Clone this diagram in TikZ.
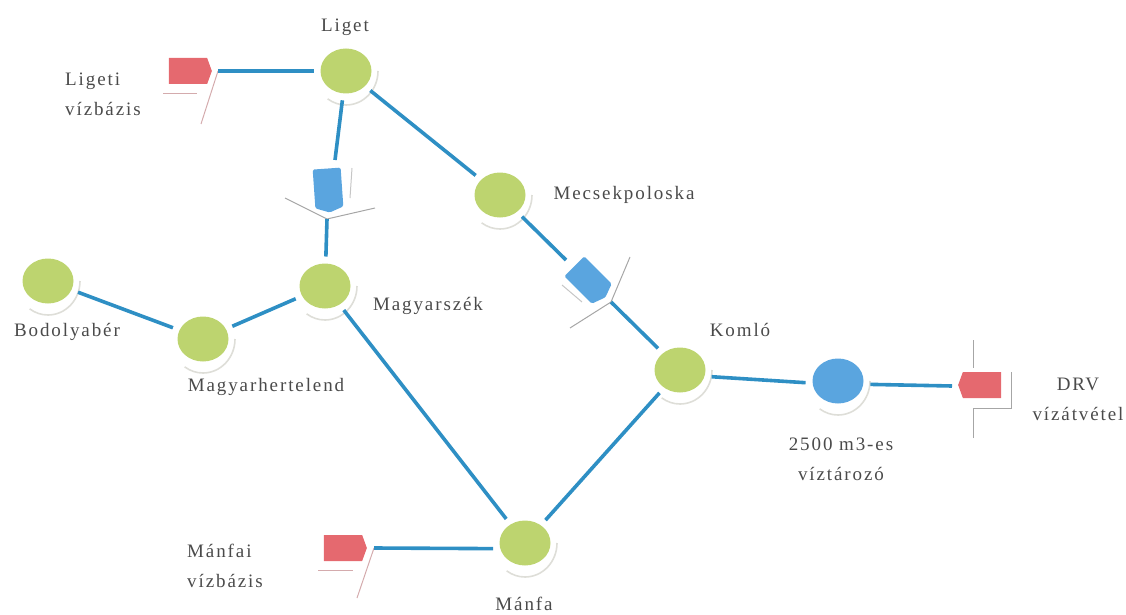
\documentclass[tikz,border=0pt]{standalone}
\usepackage{fontspec}
\setmainfont{Liberation Serif}
\newfontfamily\labelfont[LetterSpace=10]{Liberation Serif}
\usetikzlibrary{shapes.symbols,shapes.geometric}
\definecolor{stationgreen}{HTML}{BDD46F}
\definecolor{tankblue}{HTML}{5AA5DF}
\definecolor{pipeblue}{HTML}{2E8FC4}
\definecolor{sourcered}{HTML}{E5696F}
\definecolor{halogray}{HTML}{DEDED8}
\definecolor{lettergray}{HTML}{4A4A4A}
\colorlet{markgray}{gray!70}
\colorlet{marklight}{gray!45}
\colorlet{markred}{sourcered!55!gray!60}
\tikzset{
  station/.style={ellipse,fill=stationgreen,minimum width=51pt,minimum height=45pt,inner sep=0pt,outer sep=7pt},
  tank/.style={station,fill=tankblue},
  pointer/.style={signal,signal to=east,signal pointer angle=140,inner sep=0pt,minimum height=#1,outer sep=0pt},
  source/.style={pointer=26pt,fill=sourcered,minimum width=43pt},
  valve/.style={pointer=28pt,fill=tankblue,minimum width=44pt,rounded corners=1.5pt},
  pipe/.style={draw=pipeblue,line width=3.6pt},
  mark line/.style={draw=#1,line width=1pt},
  halo/.style={draw=halogray,line width=1.6pt},
  label text/.style={text=lettergray,font=\labelfont\fontsize{19}{30}\selectfont,align=center,inner sep=0pt},
  left text/.style={label text,align=left,anchor=west}
}
\begin{document}
\begin{tikzpicture}[x=1pt,y=-1pt]
\useasboundingbox (0,0) rectangle (1126,615);
% stations
\node[station] (liget) at (346,71) {};
\node[station] (mecsek) at (500,195) {};
\node[station] (magyarszek) at (325,286) {};
\node[station] (bodolya) at (48,281) {};
\node[station] (hertelend) at (203,339) {};
\node[station] (komlo) at (680,370) {};
\node[station] (manfa) at (525,543) {};
\node[tank] (tarozo) at (838,381) {};
% halo arcs
\foreach \n in {liget,mecsek,magyarszek,bodolya,hertelend,komlo,manfa,tarozo}
  \draw[halo] (\n.center) ++(32pt,0pt) arc[start angle=0,end angle=-125,x radius=32pt,y radius=34pt];
% sources and valves
\node[source] (ligetsrc) at (188,71) {};
\node[source] (manfasrc) at (343,548) {};
\node[source,rotate=180] (drvsrc) at (982,385) {};
\node[valve,rotate=-86] (valveA) at (328,188) {};
\node[valve,rotate=-45] (valveB) at (588,280) {};
% junctions
\coordinate (ligetj) at (218,71);
\coordinate (manfaj) at (374,548);
\coordinate (valveAj) at (327,219);
\coordinate (valveBj) at (611,302);
\coordinate (drvj) at (952,386);
\coordinate (valveAin) at (335,160);
\coordinate (valveBin) at (566,260);
% thin marks
\draw[mark line=markred] (ligetj) -- (201,124);
\draw[mark line=markred] (163,94) -- (197,94);
\draw[mark line=markred] (manfaj) -- (357,598);
\draw[mark line=markred] (318,570) -- (353,570);
\draw[mark line=markgray] (285,198) -- (valveAj) -- (375,208);
\draw[mark line=marklight] (352,168) -- (350,198);
\draw[mark line=markgray] (630,257) -- (valveBj) -- (570,328);
\draw[mark line=marklight] (562,285) -- (582,302);
\draw[mark line=markgray] (973,340) -- (973,368);
\draw[mark line=markgray] (973,438) -- (973,408) -- (1011,408) -- (1011,372);
% pipes
\draw[pipe] (ligetj) -- (liget);
\draw[pipe] (manfaj) -- (manfa.190);
\draw[pipe] (liget) -- (valveAin);
\draw[pipe] (valveAj) -- (magyarszek);
\draw[pipe] (liget) -- (mecsek);
\draw[pipe] (mecsek) -- (valveBin);
\draw[pipe] (valveBj) -- (komlo);
\draw[pipe] (bodolya) -- (hertelend);
\draw[pipe] (hertelend) -- (magyarszek);
\draw[pipe] (magyarszek) -- (manfa);
\draw[pipe] (manfa) -- (komlo);
\draw[pipe] (komlo.-12) -- (tarozo.183);
\draw[pipe] (tarozo.-6) -- (drvj);
% labels
\node[label text] (t1) at (345,27) {Liget};
\node[left text] (t2) at (65,94) {Ligeti\\vízbázis};
\node[label text] (t3) at (624,195) {Mecsekpoloska};
\node[label text] (t4) at (428,306) {Magyarszék};
\node[label text] (t5) at (67,332) {Bodolyabér};
\node[label text] (t6) at (266,387) {Magyarhertelend};
\node[label text] (t7) at (740,330) {Komló};
\node[label text] (t8) at (841,459) {2500 m3-es\\víztározó};
\node[label text] (t9) at (1078,399) {DRV\\vízátvétel};
\node[left text] (t10) at (187,566) {Mánfai\\vízbázis};
\node[label text] (t11) at (524,604) {Mánfa};
\end{tikzpicture}
\end{document}
